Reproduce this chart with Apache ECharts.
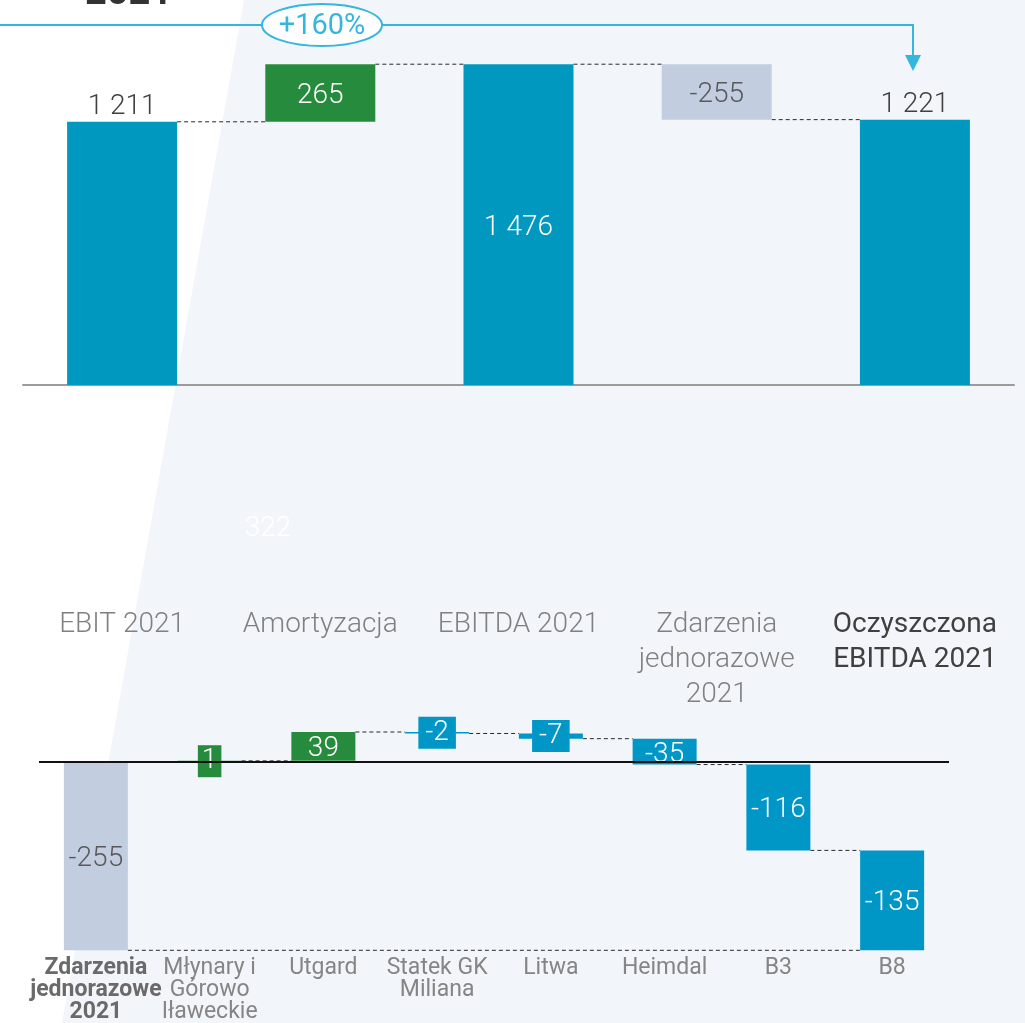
<!DOCTYPE html>
<html>
<head>
<meta charset="utf-8">
<title>EBITDA 2021</title>
<style>
  html, body { margin: 0; padding: 0; background: #F2F5FA; }
  #chart { width: 1025px; height: 1023px; }
</style>
</head>
<body>
<div id="chart"></div>
<script src="https://cdn.jsdelivr.net/npm/echarts@6/dist/echarts.min.js"></script>
<script>
// --- data ---
var topCats = ['EBIT 2021', 'Amortyzacja', 'EBITDA 2021', 'Zdarzenia\njednorazowe\n2021', 'Oczyszczona\nEBITDA 2021'];
var topValues = [1211, 265, 1476, -255, 1221];
var topTotals = [true, false, true, false, true];

var bottomCats = ['Zdarzenia\njednorazowe\n2021', 'Młynary i\nGórowo\nIławeckie', 'Utgard', 'Statek GK\nMiliana', 'Litwa', 'Heimdal', 'B3', 'B8'];
var bottomValues = [-255, 1, 39, -2, -7, -35, -116, -135];
var bottomTotals = [true, false, false, false, false, false, false, false];

var growthLabel = '+160%';
var titleText = '2021';
var strayLabel = '322';

// --- styles ---
var FONT = "Roboto, 'Noto Sans', sans-serif";
var TEAL = '#0098BE', GREEN = '#278B3D', GREY = '#C3CDE0', BLUE = '#0097C6', ACCENT = '#35B6DC';
var topColors = [TEAL, GREEN, TEAL, GREY, TEAL];
var bottomColors = [GREY, GREEN, GREEN, BLUE, BLUE, BLUE, BLUE, BLUE];

function fmt(v) {
    return String(v).replace(/\B(?=(\d{3})+(?!\d))/g, ' ');
}

// waterfall: transparent base + visible size, and the level each step ends at
function waterfall(values, totals, resetAfterTotal) {
    var run = 0, base = [], size = [], level = [];
    for (var i = 0; i < values.length; i++) {
        var v = values[i], start, end;
        if (totals[i]) { start = 0; end = v; run = resetAfterTotal ? 0 : v; }
        else { start = run; end = run + v; run = end; }
        base.push(Math.min(start, end));
        size.push(Math.abs(v));
        level.push(run);
    }
    return { base: base, size: size, level: level };
}

var topWf = waterfall(topValues, topTotals, false);
var botWf = waterfall(bottomValues, bottomTotals, true);

var topLinks = [];
for (var i = 0; i < topValues.length - 1; i++) topLinks.push([i, topWf.level[i], i + 1]);
var botLinks = [];
for (var i = 0; i < bottomValues.length - 1; i++) botLinks.push([i, botWf.level[i], i + 1]);
botLinks.push([0, bottomValues[0], bottomValues.length - 1]);

var topData = topValues.map(function (v, i) {
    var above = topTotals[i] && i !== 2;
    return {
        value: topWf.size[i],
        itemStyle: { color: topColors[i] },
        label: {
            show: true,
            position: above ? 'top' : 'inside',
            distance: 4,
            offset: [0, 3],
            formatter: fmt(v),
            fontFamily: FONT,
            fontWeight: 300,
            fontSize: 28,
            color: above ? '#404040' : (topColors[i] === GREY ? '#595959' : '#ffffff')
        }
    };
});

var botData = bottomValues.map(function (v, i) {
    var small = Math.abs(v) < 10;
    var lab = {
        show: true,
        position: 'inside',
        formatter: String(v),
        fontFamily: FONT,
        fontWeight: 300,
        fontSize: 28,
        lineHeight: 28,
        color: bottomColors[i] === GREY ? '#595959' : '#ffffff'
    };
    if (small) {
        lab.backgroundColor = bottomColors[i];
        lab.padding = [2, v > 0 ? 4 : 7];
    } else {
        lab.offset = [0, 3];
    }
    return { value: botWf.size[i], itemStyle: { color: bottomColors[i] }, label: lab };
});

var topAxisData = topCats.map(function (c, i) {
    return i === 4 ? { value: c, textStyle: { color: '#404040', fontWeight: 'normal' } } : c;
});
var botAxisData = bottomCats.map(function (c, i) {
    return i === 0 ? { value: c, textStyle: { color: '#6a6a6a', fontWeight: 'bold' } } : c;
});

function linkRenderer(half) {
    return function (params, api) {
        var a = api.coord([api.value(0), api.value(1)]);
        var b = api.coord([api.value(2), api.value(1)]);
        return {
            type: 'line',
            shape: { x1: a[0] + half, y1: a[1], x2: b[0] - half, y2: b[1] },
            style: { stroke: '#2a2a2a', lineWidth: 1, lineDash: [4, 3] }
        };
    };
}

var myChart = echarts.init(document.getElementById('chart'), null, { renderer: 'canvas' });

var option = {
    backgroundColor: '#F2F5FA',
    animation: false,
    textStyle: { fontFamily: FONT },
    grid: [
        { left: 23, right: 11, top: 59, height: 326, outerBoundsMode: 'none' },
        { left: 39, right: 76, top: 732, height: 222, outerBoundsMode: 'none' }
    ],
    xAxis: [
        {
            type: 'category', gridIndex: 0, data: topAxisData,
            axisLine: { lineStyle: { color: '#9b9b9b', width: 2 } },
            axisTick: { show: false },
            axisLabel: { interval: 0, margin: 222, fontSize: 28, fontWeight: 300, lineHeight: 35, color: '#808080', fontFamily: FONT }
        },
        {
            type: 'category', gridIndex: 1, data: botAxisData,
            axisLine: { show: false },
            axisTick: { show: false },
            axisLabel: { interval: 0, margin: 3, fontSize: 23, lineHeight: 22, color: '#858585', fontFamily: FONT, hideOverlap: false }
        }
    ],
    yAxis: [
        { type: 'value', gridIndex: 0, min: 0, max: 1500, show: false },
        { type: 'value', gridIndex: 1, min: -260, max: 40, show: false }
    ],
    series: [
        {
            type: 'bar', xAxisIndex: 0, yAxisIndex: 0, stack: 'top', stackStrategy: 'all',
            barWidth: 110, itemStyle: { color: 'transparent' }, silent: true, data: topWf.base
        },
        {
            type: 'bar', xAxisIndex: 0, yAxisIndex: 0, stack: 'top', stackStrategy: 'all',
            barWidth: 110, data: topData
        },
        {
            type: 'custom', xAxisIndex: 0, yAxisIndex: 0, renderItem: linkRenderer(55),
            encode: { x: 0, y: 1 }, data: topLinks, silent: true
        },
        {
            type: 'bar', xAxisIndex: 1, yAxisIndex: 1, stack: 'bot', stackStrategy: 'all',
            barWidth: 64, itemStyle: { color: 'transparent' }, silent: true, data: botWf.base,
            markLine: {
                silent: true, symbol: 'none', label: { show: false },
                lineStyle: { color: '#111', width: 2, type: 'solid' },
                data: [{ yAxis: 0 }]
            }
        },
        {
            type: 'bar', xAxisIndex: 1, yAxisIndex: 1, stack: 'bot', stackStrategy: 'all',
            barWidth: 64, data: botData, z: 3
        },
        {
            type: 'custom', xAxisIndex: 1, yAxisIndex: 1, renderItem: linkRenderer(32),
            encode: { x: 0, y: 1 }, data: botLinks, silent: true
        }
    ],
    graphic: [
        {
            type: 'polygon', z: -100, silent: true,
            shape: { points: [[0, 0], [244, 0], [62, 1023], [0, 1023]] },
            style: { fill: '#ffffff' }
        },
        {
            type: 'text', z: 10, silent: true,
            style: { text: titleText, x: 85, y: 13, verticalAlign: 'bottom', font: 'bold 38px ' + FONT, fill: '#333333' }
        },
        {
            type: 'polyline', z: 10, silent: true,
            shape: { points: [[0, 25], [262, 25]] },
            style: { stroke: ACCENT, lineWidth: 2, fill: null }
        },
        {
            type: 'ellipse', z: 10, silent: true,
            shape: { cx: 322, cy: 25, rx: 60, ry: 21 },
            style: { stroke: ACCENT, lineWidth: 2, fill: '#ffffff' }
        },
        {
            type: 'text', z: 11, silent: true,
            style: { text: growthLabel, x: 322, y: 27, align: 'center', verticalAlign: 'middle', font: '29px ' + FONT, fill: ACCENT }
        },
        {
            type: 'polyline', z: 10, silent: true,
            shape: { points: [[382, 25], [913, 25], [913, 56]] },
            style: { stroke: ACCENT, lineWidth: 2, fill: null }
        },
        {
            type: 'polygon', z: 10, silent: true,
            shape: { points: [[905, 55], [921, 55], [913, 71]] },
            style: { fill: ACCENT }
        },
        {
            type: 'text', z: 10, silent: true,
            style: { text: strayLabel, x: 268, y: 529, align: 'center', verticalAlign: 'middle', font: '300 28px ' + FONT, fill: '#ffffff' }
        }
    ]
};

myChart.setOption(option);
</script>
</body>
</html>
